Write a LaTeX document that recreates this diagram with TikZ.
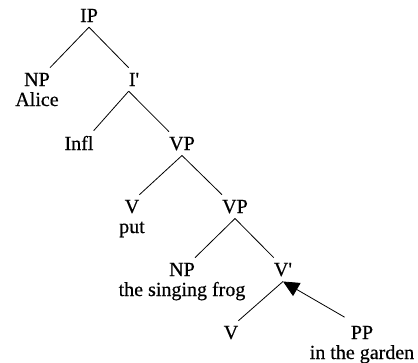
\documentclass[tikz,border=0pt]{standalone}
\usepackage{fontspec}
\setmainfont{Liberation Serif}[FakeBold=0.5]
\usetikzlibrary{arrows.meta, positioning}

\begin{document}
\begin{tikzpicture}[
    x=1pt, y=-1pt,
    font=\fontsize{20}{20}\selectfont,
    cat/.style={inner xsep=0pt, inner ysep=5pt, anchor=base},
    word/.style={inner xsep=0pt, inner ysep=5pt},
    branch/.style={line width=0.8pt},
    move/.style={line width=0.8pt, shorten <=7pt, -{Triangle[length=16pt, width=15pt]}}
  ]
    \useasboundingbox (0,0) rectangle (418,362);
    \node[cat] (ip) at (89,22) {IP};
    \node[cat] (np1) at (37,86) {NP};
    \node[word, below=20pt of np1.base, anchor=base] (alice) {Alice};
    \node[cat] (ibar) at (134,86) {I\textquotesingle};
    \node[cat] (infl) at (79,150) {Infl};
    \node[cat] (vp1) at (182,150) {VP};
    \node[cat] (v1) at (132,213) {V};
    \node[word, below=20pt of v1.base, anchor=base] (put) {put};
    \node[cat] (vp2) at (235,213) {VP};
    \node[cat] (np2) at (182,276) {NP};
    \node[word, below=20pt of np2.base, anchor=base] (frog) {the singing frog};
    \node[cat] (vbar) at (283,276) {V\textquotesingle};
    \node[cat] (v2) at (231,339) {V};
    \node[cat] (pp) at (362,339) {PP};
    \node[word, below=20pt of pp.base, anchor=base] (garden) {in the garden};
    \draw[branch] (ip.south) -- (np1.north east);
    \draw[branch] (ip.south) -- (ibar.north west);
    \draw[branch] (ibar.south west) -- (infl.north east);
    \draw[branch] (ibar.south west) -- (vp1.north west);
    \draw[branch] (vp1.south) -- (v1.north east);
    \draw[branch] (vp1.south) -- (vp2.north west);
    \draw[branch] (vp2.south) -- (np2.north east);
    \draw[branch] (vp2.south) -- (vbar.north west);
    \draw[branch] (vbar.south) -- (v2.north east);
    \draw[move] (pp.north west) -- (vbar.south);
\end{tikzpicture}
\end{document}
